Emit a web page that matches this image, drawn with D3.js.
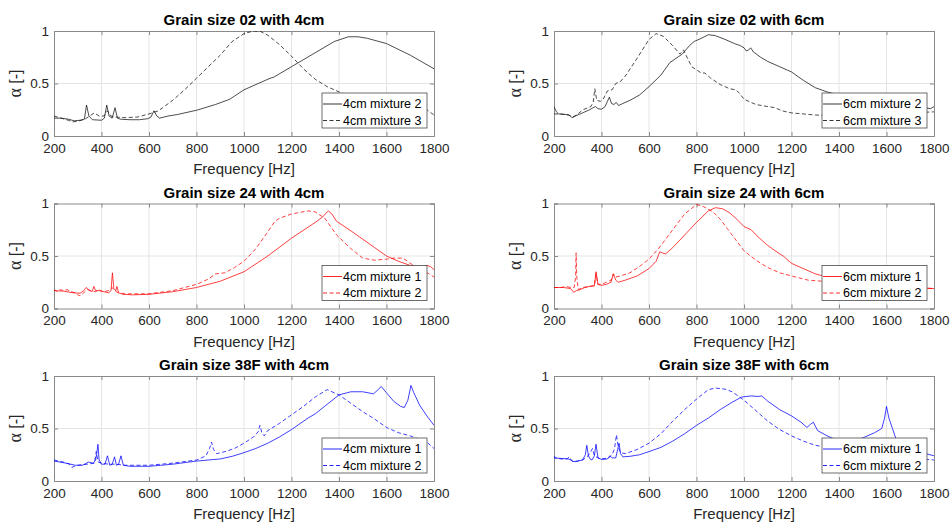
<!DOCTYPE html>
<html>
<head>
<meta charset="utf-8">
<script src="https://cdn.jsdelivr.net/npm/d3@7"></script>
<style>
  body { margin: 0; background: #fff; }
  svg { display: block; font-family: "Liberation Sans", Arial, sans-serif; }
</style>
</head>
<body>
<svg id="chart" width="950" height="524"></svg>
<script>
// tick labels
const xTicks = [200, 400, 600, 800, 1000, 1200, 1400, 1600, 1800];
const yTicks = [0, 0.5, 1];

// Grain size 02 with 4cm
const g02_4_m2 = [[200,0.17],[230,0.17],[260,0.16],[285,0.145],[310,0.15],[328,0.16],[337,0.295],[347,0.19],[362,0.155],[400,0.15],[412,0.17],[422,0.295],[432,0.19],[445,0.17],[457,0.27],[467,0.17],[480,0.16],[520,0.155],[560,0.155],[595,0.165],[608,0.18],[621,0.24],[633,0.19],[645,0.17],[680,0.19],[720,0.205],[800,0.245],[880,0.3],[940,0.35],[1000,0.44],[1060,0.5],[1110,0.55],[1125,0.56],[1200,0.66],[1290,0.78],[1380,0.9],[1440,0.945],[1480,0.945],[1520,0.93],[1600,0.88],[1700,0.77],[1800,0.64]];
const g02_4_m3 = [[200,0.19],[230,0.17],[260,0.15],[280,0.135],[300,0.14],[330,0.16],[350,0.19],[370,0.22],[390,0.19],[410,0.19],[425,0.24],[440,0.19],[460,0.18],[500,0.175],[550,0.18],[600,0.21],[640,0.24],[700,0.34],[750,0.44],[800,0.55],[850,0.66],[900,0.77],[950,0.9],[1000,0.975],[1040,1.0],[1070,0.995],[1100,0.96],[1150,0.87],[1200,0.76],[1250,0.64],[1300,0.54],[1350,0.47],[1400,0.42],[1450,0.38],[1500,0.35],[1600,0.31],[1700,0.28],[1770,0.25],[1800,0.2]];

// Grain size 02 with 6cm
const g02_6_m2 = [[200,0.28],[210,0.23],[220,0.21],[250,0.205],[265,0.2],[275,0.175],[290,0.19],[320,0.22],[350,0.25],[365,0.27],[375,0.28],[385,0.26],[400,0.255],[415,0.28],[425,0.33],[433,0.37],[442,0.31],[452,0.3],[462,0.32],[472,0.29],[490,0.31],[520,0.34],[560,0.39],[600,0.47],[650,0.58],[688,0.7],[740,0.78],[770,0.86],[790,0.9],[820,0.93],[850,0.965],[880,0.955],[920,0.92],[960,0.88],[985,0.86],[1000,0.84],[1010,0.81],[1020,0.82],[1028,0.84],[1040,0.8],[1070,0.75],[1100,0.71],[1150,0.66],[1200,0.61],[1250,0.53],[1300,0.46],[1350,0.42],[1400,0.39],[1500,0.34],[1600,0.31],[1700,0.29],[1760,0.27],[1785,0.26],[1800,0.28]];
const g02_6_m3 = [[200,0.21],[230,0.21],[260,0.2],[280,0.18],[300,0.21],[322,0.25],[355,0.28],[365,0.32],[372,0.45],[380,0.34],[395,0.33],[407,0.35],[425,0.43],[445,0.44],[460,0.5],[480,0.52],[500,0.57],[550,0.74],[600,0.92],[630,0.975],[660,0.95],[700,0.86],[730,0.78],[745,0.82],[760,0.75],[780,0.66],[800,0.63],[820,0.6],[835,0.6],[860,0.55],[900,0.49],[940,0.45],[965,0.44],[980,0.41],[1000,0.35],[1050,0.3],[1100,0.28],[1130,0.27],[1160,0.24],[1200,0.22],[1300,0.2],[1400,0.19],[1500,0.2],[1600,0.21],[1700,0.22],[1800,0.23]];

// Grain size 24 with 4cm
const g24_4_m1 = [[200,0.17],[240,0.165],[280,0.15],[310,0.145],[325,0.17],[335,0.2],[345,0.18],[360,0.16],[368,0.21],[375,0.17],[390,0.17],[410,0.16],[430,0.15],[440,0.17],[446,0.34],[452,0.19],[460,0.17],[465,0.21],[472,0.15],[490,0.135],[530,0.13],[600,0.135],[700,0.16],[800,0.2],[900,0.26],[1000,0.35],[1100,0.5],[1200,0.67],[1300,0.82],[1330,0.87],[1355,0.93],[1370,0.9],[1390,0.83],[1450,0.74],[1500,0.66],[1550,0.58],[1600,0.5],[1650,0.45],[1700,0.41],[1740,0.4],[1770,0.41],[1785,0.4],[1800,0.37]];
const g24_4_m2 = [[200,0.18],[215,0.16],[225,0.18],[240,0.17],[255,0.18],[270,0.16],[290,0.15],[300,0.13],[310,0.12],[325,0.15],[340,0.18],[355,0.17],[375,0.16],[390,0.18],[405,0.16],[430,0.17],[445,0.2],[455,0.17],[470,0.15],[500,0.14],[600,0.14],[700,0.17],[800,0.23],[850,0.28],[880,0.33],[920,0.34],[960,0.39],[1000,0.45],[1050,0.57],[1100,0.73],[1130,0.83],[1150,0.86],[1200,0.9],[1270,0.93],[1300,0.92],[1340,0.86],[1390,0.7],[1450,0.57],[1500,0.48],[1550,0.46],[1600,0.47],[1630,0.48],[1670,0.48],[1700,0.43],[1750,0.37],[1800,0.3]];

// Grain size 24 with 6cm
const g24_6_m1 = [[200,0.2],[240,0.2],[270,0.19],[283,0.155],[295,0.17],[310,0.18],[330,0.2],[350,0.21],[370,0.215],[377,0.35],[385,0.23],[400,0.22],[420,0.23],[440,0.25],[450,0.33],[460,0.27],[470,0.25],[500,0.27],[550,0.31],[600,0.38],[630,0.45],[645,0.54],[655,0.53],[670,0.52],[700,0.58],[750,0.7],[800,0.82],[850,0.93],[880,0.96],[910,0.95],[940,0.91],[970,0.85],[1000,0.78],[1030,0.75],[1060,0.68],[1100,0.6],[1150,0.52],[1165,0.5],[1200,0.43],[1250,0.38],[1300,0.33],[1350,0.3],[1400,0.27],[1500,0.23],[1600,0.21],[1700,0.2],[1800,0.19]];
const g24_6_m2 = [[200,0.2],[230,0.2],[250,0.21],[270,0.2],[285,0.2],[291,0.3],[293,0.53],[296,0.3],[302,0.18],[320,0.2],[350,0.21],[370,0.22],[377,0.33],[385,0.23],[400,0.23],[420,0.25],[440,0.27],[450,0.33],[460,0.3],[480,0.31],[520,0.34],[560,0.4],[600,0.47],[640,0.57],[700,0.75],[750,0.9],[800,0.99],[830,0.97],[870,0.92],[900,0.85],[930,0.76],[970,0.64],[1000,0.55],[1050,0.46],[1100,0.39],[1150,0.34],[1200,0.31],[1270,0.27],[1330,0.26],[1400,0.25],[1500,0.23],[1600,0.21],[1700,0.2],[1800,0.19]];

// Grain size 38F with 4cm
const g38_4_m1 = [[200,0.19],[250,0.17],[290,0.15],[320,0.15],[345,0.18],[365,0.17],[375,0.2],[380,0.26],[385,0.35],[390,0.2],[400,0.16],[415,0.16],[425,0.24],[435,0.15],[445,0.16],[455,0.23],[463,0.15],[472,0.16],[482,0.24],[492,0.15],[520,0.14],[600,0.14],[700,0.16],[800,0.19],[900,0.21],[950,0.235],[1000,0.27],[1050,0.31],[1100,0.36],[1150,0.42],[1200,0.49],[1270,0.6],[1300,0.64],[1350,0.73],[1400,0.82],[1450,0.85],[1500,0.85],[1545,0.83],[1560,0.86],[1578,0.9],[1600,0.84],[1630,0.76],[1660,0.71],[1675,0.7],[1690,0.77],[1703,0.91],[1715,0.84],[1740,0.72],[1770,0.62],[1800,0.53]];
const g38_4_m2 = [[200,0.2],[240,0.18],[265,0.16],[275,0.13],[285,0.14],[300,0.15],[340,0.16],[370,0.17],[378,0.28],[386,0.18],[400,0.17],[430,0.16],[460,0.16],[500,0.15],[600,0.15],[700,0.17],[800,0.2],[840,0.24],[855,0.31],[863,0.37],[872,0.3],[885,0.26],[920,0.28],[960,0.31],[1000,0.36],[1040,0.42],[1060,0.47],[1067,0.53],[1075,0.46],[1085,0.43],[1100,0.48],[1150,0.55],[1200,0.63],[1250,0.71],[1300,0.8],[1350,0.87],[1400,0.82],[1450,0.74],[1500,0.66],[1550,0.59],[1600,0.51],[1650,0.46],[1700,0.43],[1770,0.37],[1800,0.31]];

// Grain size 38F with 6cm
const g38_6_m1 = [[200,0.22],[230,0.215],[260,0.21],[270,0.2],[280,0.185],[300,0.19],[320,0.2],[332,0.25],[338,0.34],[345,0.24],[352,0.21],[360,0.2],[370,0.24],[377,0.35],[385,0.22],[400,0.205],[425,0.21],[435,0.24],[445,0.22],[460,0.22],[468,0.3],[474,0.36],[480,0.26],[490,0.23],[520,0.235],[560,0.25],[600,0.28],[650,0.32],[700,0.38],[750,0.45],[800,0.53],[850,0.6],[900,0.68],[950,0.75],[990,0.8],[1030,0.81],[1060,0.805],[1075,0.81],[1100,0.76],[1150,0.68],[1200,0.62],[1240,0.56],[1265,0.51],[1280,0.54],[1292,0.56],[1310,0.48],[1350,0.43],[1380,0.4],[1420,0.39],[1460,0.39],[1500,0.41],[1550,0.46],[1580,0.5],[1592,0.6],[1600,0.71],[1610,0.6],[1625,0.5],[1640,0.4],[1660,0.34],[1700,0.3],[1750,0.27],[1800,0.24]];
const g38_6_m2 = [[200,0.24],[205,0.22],[230,0.21],[255,0.21],[265,0.23],[272,0.2],[285,0.18],[300,0.19],[320,0.2],[340,0.23],[355,0.28],[362,0.31],[370,0.24],[385,0.22],[400,0.21],[430,0.22],[445,0.25],[455,0.31],[463,0.44],[470,0.33],[480,0.27],[500,0.26],[550,0.3],[600,0.36],[650,0.45],[700,0.57],[750,0.68],[800,0.78],[850,0.87],[880,0.885],[920,0.875],[950,0.85],[1000,0.77],[1050,0.67],[1100,0.57],[1150,0.49],[1200,0.43],[1250,0.38],[1300,0.34],[1350,0.32],[1400,0.31],[1500,0.29],[1600,0.26],[1700,0.22],[1800,0.2]];

const panels = [
  { title: "Grain size 02 with 4cm", col: 0, row: 0, color: "#111", series: [[g02_4_m2, "4cm mixture 2", false], [g02_4_m3, "4cm mixture 3", true]] },
  { title: "Grain size 02 with 6cm", col: 1, row: 0, color: "#111", series: [[g02_6_m2, "6cm mixture 2", false], [g02_6_m3, "6cm mixture 3", true]] },
  { title: "Grain size 24 with 4cm", col: 0, row: 1, color: "#f00", series: [[g24_4_m1, "4cm mixture 1", false], [g24_4_m2, "4cm mixture 2", true]] },
  { title: "Grain size 24 with 6cm", col: 1, row: 1, color: "#f00", series: [[g24_6_m1, "6cm mixture 1", false], [g24_6_m2, "6cm mixture 2", true]] },
  { title: "Grain size 38F with 4cm", col: 0, row: 2, color: "#00f", series: [[g38_4_m1, "4cm mixture 1", false], [g38_4_m2, "4cm mixture 2", true]] },
  { title: "Grain size 38F with 6cm", col: 1, row: 2, color: "#00f", series: [[g38_6_m1, "6cm mixture 1", false], [g38_6_m2, "6cm mixture 2", true]] }
];

const svg = d3.select("#chart");
const W = 380, H = 105;
const lefts = [54, 554], tops = [31, 203.5, 376];
const DASH = "4,2.5";

panels.forEach((p, i) => {
  const x0 = lefts[p.col], y0 = tops[p.row];
  const g = svg.append("g").attr("transform", `translate(${x0},${y0})`);
  const x = d3.scaleLinear().domain([200, 1800]).range([0, W]);
  const y = d3.scaleLinear().domain([0, 1]).range([H, 0]);

  g.append("rect").attr("width", W).attr("height", H).attr("fill", "#fff");

  // grid
  g.selectAll(".gx").data(xTicks.slice(1, -1)).join("line")
    .attr("x1", d => x(d)).attr("x2", d => x(d)).attr("y1", 0).attr("y2", H)
    .attr("stroke", "#e4e4e4").attr("stroke-width", 1);
  g.selectAll(".gy").data([0.5]).join("line")
    .attr("x1", 0).attr("x2", W).attr("y1", d => y(d)).attr("y2", d => y(d))
    .attr("stroke", "#e4e4e4").attr("stroke-width", 1);

  // axes
  const xa = g.append("g").attr("transform", `translate(0,${H})`)
    .call(d3.axisBottom(x).tickValues(xTicks).tickSize(-4).tickPadding(8).tickFormat(d3.format("d")));
  const ya = g.append("g")
    .call(d3.axisLeft(y).tickValues(yTicks).tickSize(-4).tickPadding(5).tickFormat(d => d === 0.5 ? "0.5" : d));
  g.append("g").call(d3.axisTop(x).tickValues(xTicks).tickSize(-4).tickFormat(""));
  g.append("g").attr("transform", `translate(${W},0)`).call(d3.axisRight(y).tickValues(yTicks).tickSize(-4).tickFormat(""));
  g.selectAll(".domain").attr("stroke", "#8a8a8a");
  g.selectAll(".tick line").attr("stroke", "#8a8a8a");
  [xa, ya].forEach(a => a.selectAll("text").attr("fill", "#262626")
    .style("font-size", "13.5px").style("font-family", "Liberation Sans, Arial, sans-serif"));
  xa.selectAll("text").attr("dy", "0.66em");
  ya.selectAll("text").attr("dy", "0.3em");

  // lines
  const clipId = "clip" + i;
  g.append("clipPath").attr("id", clipId).append("rect").attr("width", W).attr("height", H);
  const line = d3.line().x(d => x(d[0])).y(d => y(d[1]));
  p.series.forEach(([data, name, dashed]) => {
    g.append("path").datum(data).attr("d", line).attr("clip-path", `url(#${clipId})`)
      .attr("fill", "none").attr("stroke", p.color).attr("stroke-width", 0.75)
      .attr("stroke-dasharray", dashed ? DASH : null).attr("stroke-linejoin", "round");
  });

  // title and labels
  g.append("text").attr("x", W / 2).attr("y", -6).attr("text-anchor", "middle")
    .style("font-size", "15px").style("font-weight", "bold").attr("fill", "#000").text(p.title);
  g.append("text").attr("x", W / 2).attr("y", H + 38).attr("text-anchor", "middle")
    .style("font-size", "15px").attr("fill", "#262626").text("Frequency [Hz]");
  const yl = g.append("text").attr("transform", `translate(${-33},${H / 2}) rotate(-90)`)
    .attr("text-anchor", "middle").style("font-size", "16px").attr("fill", "#262626");
  yl.append("tspan").style("font-family", "Liberation Serif, Times New Roman, serif").style("font-size", "18px").text("α");
  yl.append("tspan").text(" [-]");

  // legend
  const lw = 105, lh = 35;
  const lg = g.append("g").attr("transform", `translate(${W - 7 - lw},62)`);
  lg.append("rect").attr("width", lw).attr("height", lh).attr("fill", "#fff").attr("stroke", "#4a4a4a").attr("stroke-width", 0.8);
  p.series.forEach(([data, name, dashed], k) => {
    const cy = 11 + k * 16.5;
    lg.append("line").attr("x1", 1).attr("x2", 20).attr("y1", cy).attr("y2", cy)
      .attr("stroke", p.color).attr("stroke-width", 0.85).attr("stroke-dasharray", dashed ? DASH : null);
    lg.append("text").attr("x", 21).attr("y", cy).attr("dy", "0.35em")
      .style("font-size", "12.5px").attr("fill", "#000").text(name);
  });
});
</script>
</body>
</html>
